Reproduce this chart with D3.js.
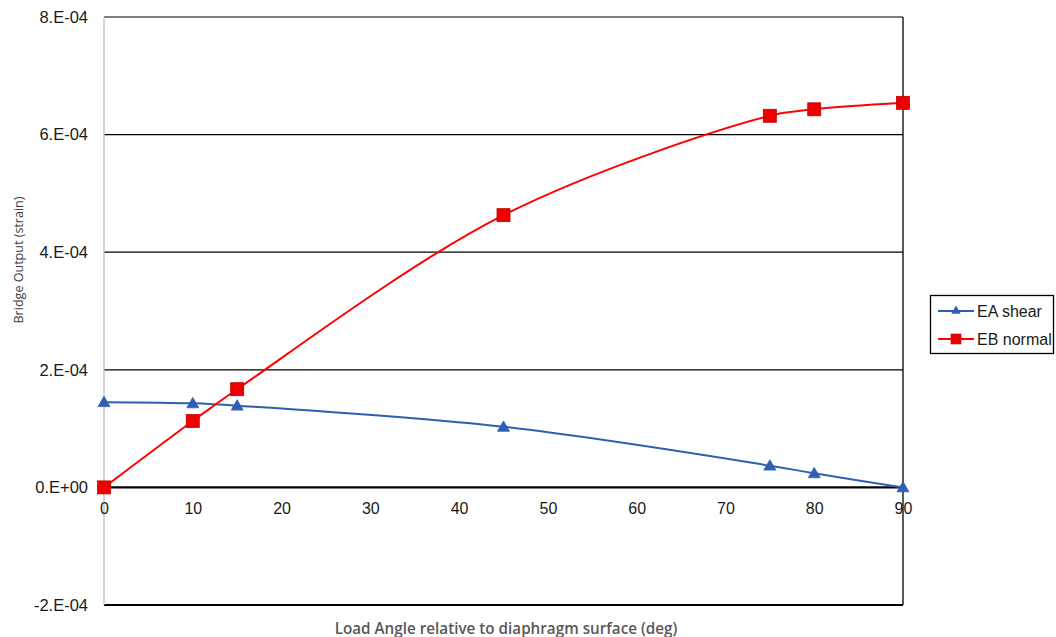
<!DOCTYPE html>
<html>
<head>
<meta charset="utf-8">
<script src="https://cdn.jsdelivr.net/npm/d3@7"></script>
<style>
  html, body { margin: 0; padding: 0; background: #fff; }
  svg { display: block; }
</style>
</head>
<body>
<svg id="chart" width="1056" height="637"></svg>
<script>
// Load angle (deg) and bridge outputs (strain)
const angles = [0, 10, 15, 45, 75, 80, 90];
const eaShear = [1.45e-4, 1.43e-4, 1.39e-4, 1.03e-4, 0.37e-4, 0.24e-4, 0.0];
const ebNormal = [0.0, 1.13e-4, 1.67e-4, 4.63e-4, 6.32e-4, 6.43e-4, 6.54e-4];
const xTicks = [0, 10, 20, 30, 40, 50, 60, 70, 80, 90];
const yTicks = [-2e-4, 0, 2e-4, 4e-4, 6e-4, 8e-4];
const yTickLabels = ["-2.E-04", "0.E+00", "2.E-04", "4.E-04", "6.E-04", "8.E-04"];
const seriesNames = ["EA shear", "EB normal"];

const svg = d3.select("#chart");
const plotLeft = 104, plotRight = 903, plotTop = 17, plotBottom = 605;

const x = d3.scaleLinear().domain([0, 90]).range([plotLeft, plotRight]);
const y = d3.scaleLinear().domain([-2e-4, 8e-4]).range([plotBottom, plotTop]);

const labelFont = "Liberation Sans, Arial, sans-serif";
const titleFont = "Open Sans, sans-serif";

// horizontal gridlines
svg.append("g").selectAll("line").data(yTicks.filter(v => v !== 0)).join("line")
  .attr("x1", plotLeft).attr("x2", plotRight)
  .attr("y1", d => y(d)).attr("y2", d => y(d))
  .attr("stroke", "#000").attr("stroke-width", d => d === -2e-4 ? 2 : 1.2);

// left axis line (gray) and right border
svg.append("line").attr("x1", plotLeft).attr("x2", plotLeft).attr("y1", plotTop).attr("y2", plotBottom)
  .attr("stroke", "#c0c0c0").attr("stroke-width", 1.3);
svg.append("line").attr("x1", plotRight).attr("x2", plotRight).attr("y1", plotTop).attr("y2", plotBottom)
  .attr("stroke", "#000").attr("stroke-width", 1.3);

// zero line
svg.append("line").attr("x1", plotLeft).attr("x2", plotRight).attr("y1", y(0)).attr("y2", y(0))
  .attr("stroke", "#000").attr("stroke-width", 2.4);

// y tick labels
const yAxis = d3.axisLeft(y).tickValues(yTicks).tickSize(0).tickPadding(16)
  .tickFormat((d, i) => yTickLabels[i]);
const gy = svg.append("g").attr("transform", `translate(${plotLeft},0)`).call(yAxis);
gy.select(".domain").remove();
gy.selectAll("text").attr("font-family", labelFont).attr("font-size", 16.5).attr("fill", "#1a1a1a");

// x tick labels below the zero line
const xAxis = d3.axisBottom(x).tickValues(xTicks).tickSize(0).tickPadding(15)
  .tickFormat(d3.format("d"));
const gx = svg.append("g").attr("transform", `translate(0,${y(0)})`).call(xAxis);
gx.select(".domain").remove();
gx.selectAll("text").attr("font-family", labelFont).attr("font-size", 16).attr("fill", "#1a1a1a");

// axis titles
svg.append("text")
  .attr("transform", `translate(23,260) rotate(-90)`)
  .attr("text-anchor", "middle")
  .attr("font-family", titleFont).attr("font-size", 13)
  .attr("textLength", 127).attr("lengthAdjust", "spacingAndGlyphs")
  .attr("fill", "#404040")
  .text("Bridge Output (strain)");

function fitText(sel, baseSize, targetWidth) {
  sel.attr("font-size", baseSize);
  const w = sel.node().getComputedTextLength();
  if (w > 0) sel.attr("font-size", baseSize * targetWidth / w);
}
const xTitle = svg.append("text")
  .attr("x", 506).attr("y", 634)
  .attr("text-anchor", "middle")
  .attr("font-family", titleFont).attr("font-weight", 600)
  .attr("fill", "#595959")
  .text("Load Angle relative to diaphragm surface (deg)");
fitText(xTitle, 14, 343);

// series
const blue = "#2f5fb0", red = "#ff0000";
const line = d3.line().x(d => x(d[0])).y(d => y(d[1])).curve(d3.curveCatmullRom.alpha(0.5));

const eaPts = angles.map((a, i) => [a, eaShear[i]]);
const ebPts = angles.map((a, i) => [a, ebNormal[i]]);

svg.append("path").datum(eaPts).attr("d", line)
  .attr("fill", "none").attr("stroke", blue).attr("stroke-width", 2);
svg.append("path").datum(ebPts).attr("d", line)
  .attr("fill", "none").attr("stroke", red).attr("stroke-width", 2);

const tri = d3.symbol().type(d3.symbolTriangle).size(62);
svg.append("g").selectAll("path").data(eaPts).join("path")
  .attr("d", tri)
  .attr("transform", d => `translate(${x(d[0])},${y(d[1]) + 1})`)
  .attr("fill", blue).attr("stroke", blue).attr("stroke-width", 0.8);

svg.append("g").selectAll("rect").data(ebPts).join("rect")
  .attr("x", d => x(d[0]) - 6.5).attr("y", d => y(d[1]) - 6.5)
  .attr("width", 13).attr("height", 13)
  .attr("fill", "#ee0000").attr("stroke", "#c00000").attr("stroke-width", 0.8);

// legend
const lg = svg.append("g");
lg.append("rect").attr("x", 930.5).attr("y", 295.5).attr("width", 123).attr("height", 58)
  .attr("fill", "#fff").attr("stroke", "#000").attr("stroke-width", 1.3);
const colors = [blue, red];
seriesNames.forEach((name, i) => {
  const cy = 311 + i * 28;
  lg.append("line").attr("x1", 938).attr("x2", 974).attr("y1", cy).attr("y2", cy)
    .attr("stroke", colors[i]).attr("stroke-width", 2);
  if (i === 0) {
    lg.append("path").attr("d", d3.symbol().type(d3.symbolTriangle).size(38))
      .attr("transform", `translate(956,${cy})`).attr("fill", blue);
  } else {
    lg.append("rect").attr("x", 951).attr("y", cy - 5).attr("width", 10).attr("height", 10)
      .attr("fill", "#ee0000").attr("stroke", "#c00000").attr("stroke-width", 0.6);
  }
  lg.append("text").attr("x", 977).attr("y", cy + 5.5)
    .attr("font-family", labelFont).attr("font-size", 16).attr("fill", "#1a1a1a")
    .text(name);
});
</script>
</body>
</html>
